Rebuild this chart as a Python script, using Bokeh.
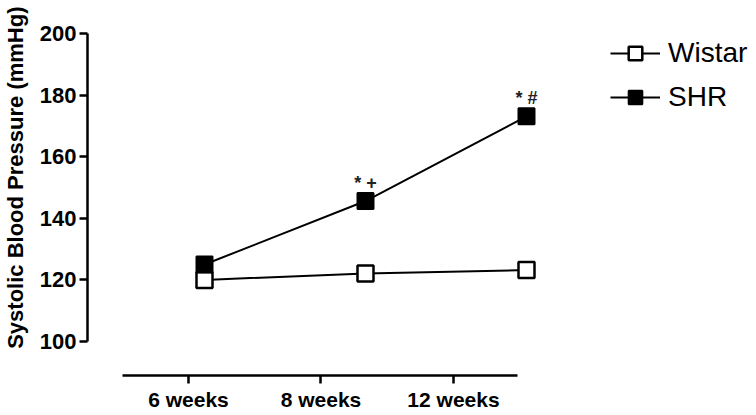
from bokeh.plotting import figure
from bokeh.models import Range1d, LinearAxis, FixedTicker, Legend, LegendItem, Title
from bokeh.core.properties import value
from bokeh.embed import file_html
from bokeh.resources import INLINE

# ---- data ----
weeks = ["6 weeks", "8 weeks", "12 weeks"]
wistar = [120.0, 122.1, 123.2]
shr = [125.0, 145.6, 173.1]
annot_idx = [1, 2]
annot_text = ["* +", "* #"]
y_ticks = [100, 120, 140, 160, 180, 200]
y_title = "Systolic Blood Pressure (mmHg)"

FONT = "Liberation Sans"
xs = list(range(len(weeks)))

p = figure(width=756, height=415, output_backend="svg", toolbar_location=None,
           x_range=Range1d(-0.7267, 3.4286), y_range=Range1d(88.96, 204.22),
           x_axis_type=None, min_border_left=87, min_border_top=20,
           min_border_right=0, min_border_bottom=40)
p.outline_line_color = None
p.xgrid.visible = False
p.ygrid.visible = False
p.background_fill_color = "white"
p.border_fill_color = "white"

# y axis
ya = p.yaxis[0]
ya.ticker = FixedTicker(ticks=y_ticks)
ya.bounds = (100, 200)
ya.major_label_text_font = FONT
ya.major_label_text_font_style = "bold"
ya.major_label_text_font_size = "22px"
ya.major_label_text_color = "black"
ya.major_label_standoff = 3
ya.axis_line_width = 2.5
ya.major_tick_line_width = 2.5
ya.major_tick_out = 8
ya.major_tick_in = 0
ya.minor_tick_out = 0
ya.minor_tick_in = 0
# small blank spacer between tick labels and the side title
ya.axis_label = " "
ya.axis_label_text_font_size = "4px"
ya.axis_label_standoff = 0

# y axis title as a side title, placed toward the top
p.add_layout(Title(text=y_title, align="right", offset=-14, standoff=1,
                   text_font=FONT, text_font_style="bold",
                   text_font_size="22px", text_color="black"), "left")

# x axis (category axis on its own scale)
p.extra_x_ranges = {"cat": Range1d(-0.7623, 4.287)}
xa = LinearAxis(x_range_name="cat")
xa.ticker = FixedTicker(ticks=xs)
xa.major_label_overrides = {i: w for i, w in enumerate(weeks)}
xa.bounds = (-0.5, 2.48)
xa.major_label_text_font = FONT
xa.major_label_text_font_style = "bold"
xa.major_label_text_font_size = "21px"
xa.major_label_text_color = "black"
xa.major_label_standoff = 4
xa.axis_line_width = 2.5
xa.major_tick_line_width = 2.5
xa.major_tick_out = 8
xa.major_tick_in = 0
xa.minor_tick_out = 0
xa.minor_tick_in = 0
p.add_layout(xa, "below")

# series
wl = p.line(xs, wistar, line_color="black", line_width=2)
ws = p.scatter(xs, wistar, marker="square", size=16, fill_color="white",
               line_color="black", line_width=2.5)
sl = p.line(xs, shr, line_color="black", line_width=2)
ss = p.scatter(xs, shr, marker="square", size=16, fill_color="black",
               line_color="black", line_width=2)

p.text(x=annot_idx, y=[shr[i] for i in annot_idx], text=annot_text,
       text_align="center", text_baseline="middle", y_offset=-18,
       text_font=value(FONT), text_font_style="bold", text_font_size="18px",
       text_color="#222222")

legend = Legend(items=[LegendItem(label="Wistar", renderers=[wl, ws]),
                       LegendItem(label="SHR", renderers=[sl, ss])],
                location=(523, 261), orientation="vertical")
legend.label_text_font = FONT
legend.label_text_font_size = "28px"
legend.label_text_color = "black"
legend.glyph_width = 50
legend.glyph_height = 34
legend.label_height = 34
legend.label_standoff = 8
legend.spacing = 10
legend.padding = 0
legend.margin = 0
legend.border_line_color = None
legend.background_fill_alpha = 0
p.add_layout(legend)

open("out.html", "w").write(file_html(p, INLINE))
